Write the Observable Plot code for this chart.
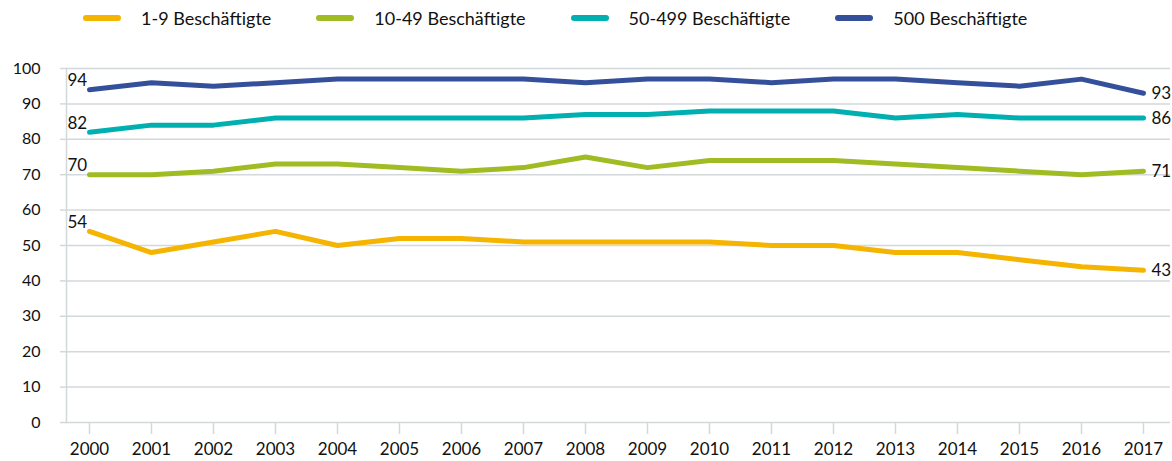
<!DOCTYPE html>
<html>
<head>
<meta charset="utf-8">
<script src="https://cdn.jsdelivr.net/npm/d3@7"></script>
<script src="https://cdn.jsdelivr.net/npm/@observablehq/plot@0.6"></script>
<style>
  body { margin: 0; background: #fff; font-family: Lato, "Noto Sans", sans-serif; }
  #legend { height: 36px; padding-bottom: 4px; display: flex; align-items: center; padding-left: 83px; gap: 45px; font-size: 18px; color: #111; }
  .item { display: flex; align-items: center; gap: 20px; }
  .sw { width: 38px; height: 6px; border-radius: 3px; }
</style>
</head>
<body>
<div id="legend"></div>
<div id="chart"></div>
<script>
const years = ["2000","2001","2002","2003","2004","2005","2006","2007","2008","2009","2010","2011","2012","2013","2014","2015","2016","2017"];
const seriesNames = ["1-9 Beschäftigte", "10-49 Beschäftigte", "50-499 Beschäftigte", "500 Beschäftigte"];
const colors = ["#f5b400", "#9fbc22", "#00b0b1", "#35509b"];
const v1_9    = [54, 48, 51, 54, 50, 52, 52, 51, 51, 51, 51, 50, 50, 48, 48, 46, 44, 43];
const v10_49  = [70, 70, 71, 73, 73, 72, 71, 72, 75, 72, 74, 74, 74, 73, 72, 71, 70, 71];
const v50_499 = [82, 84, 84, 86, 86, 86, 86, 86, 87, 87, 88, 88, 88, 86, 87, 86, 86, 86];
const v500    = [94, 96, 95, 96, 97, 97, 97, 97, 96, 97, 97, 96, 97, 97, 96, 95, 97, 93];
const yTicks = [0, 10, 20, 30, 40, 50, 60, 70, 80, 90, 100];

const allValues = [v1_9, v10_49, v50_499, v500];
const data = [];
allValues.forEach((vals, i) => vals.forEach((v, j) => data.push({series: seriesNames[i], year: years[j], value: v})));
const firsts = data.filter(d => d.year === years[0]);
const lasts = data.filter(d => d.year === years[years.length - 1]);

const legend = document.getElementById("legend");
seriesNames.forEach((s, i) => {
  const it = document.createElement("div");
  it.className = "item";
  it.innerHTML = `<span class="sw" style="background:${colors[i]}"></span><span>${s}</span>`;
  legend.appendChild(it);
});

const chart = Plot.plot({
  width: 1172,
  height: 421,
  marginTop: 28,
  marginBottom: 39,
  marginLeft: 66,
  marginRight: 2,
  style: { fontFamily: "Lato, Noto Sans, sans-serif", fontSize: "16px", color: "#111" },
  x: { type: "point", domain: years, padding: 0, insetLeft: 22, insetRight: 27, label: null },
  y: { domain: [0, 100], label: null },
  color: { domain: seriesNames, range: colors },
  marks: [
    Plot.ruleY(yTicks, { stroke: "#d3d8db", strokeWidth: 1.5 }),
    Plot.frame({ anchor: "left", stroke: "#d3d8db", strokeWidth: 1.5 }),
    Plot.axisY(yTicks, { tickSize: 6, tickPadding: 20, stroke: "#d3d8db", strokeWidth: 1.5, fontSize: 16, fill: "#111" }),
    Plot.axisX(years, { tickSize: 12, tickPadding: 8, stroke: "#d3d8db", strokeWidth: 1.5, fontSize: 17, fill: "#111" }),
    Plot.line(data, { x: "year", y: "value", z: "series", stroke: "series", strokeWidth: 5, strokeLinejoin: "round", strokeLinecap: "round" }),
    Plot.text(firsts, { x: "year", y: "value", text: d => String(d.value), textAnchor: "start", dx: -22, dy: -9, fontSize: 17, fill: "#111" }),
    Plot.text(lasts, { x: "year", y: "value", text: d => String(d.value), textAnchor: "start", dx: 8, fontSize: 17, fill: "#111" })
  ]
});
document.getElementById("chart").appendChild(chart);
</script>
</body>
</html>
